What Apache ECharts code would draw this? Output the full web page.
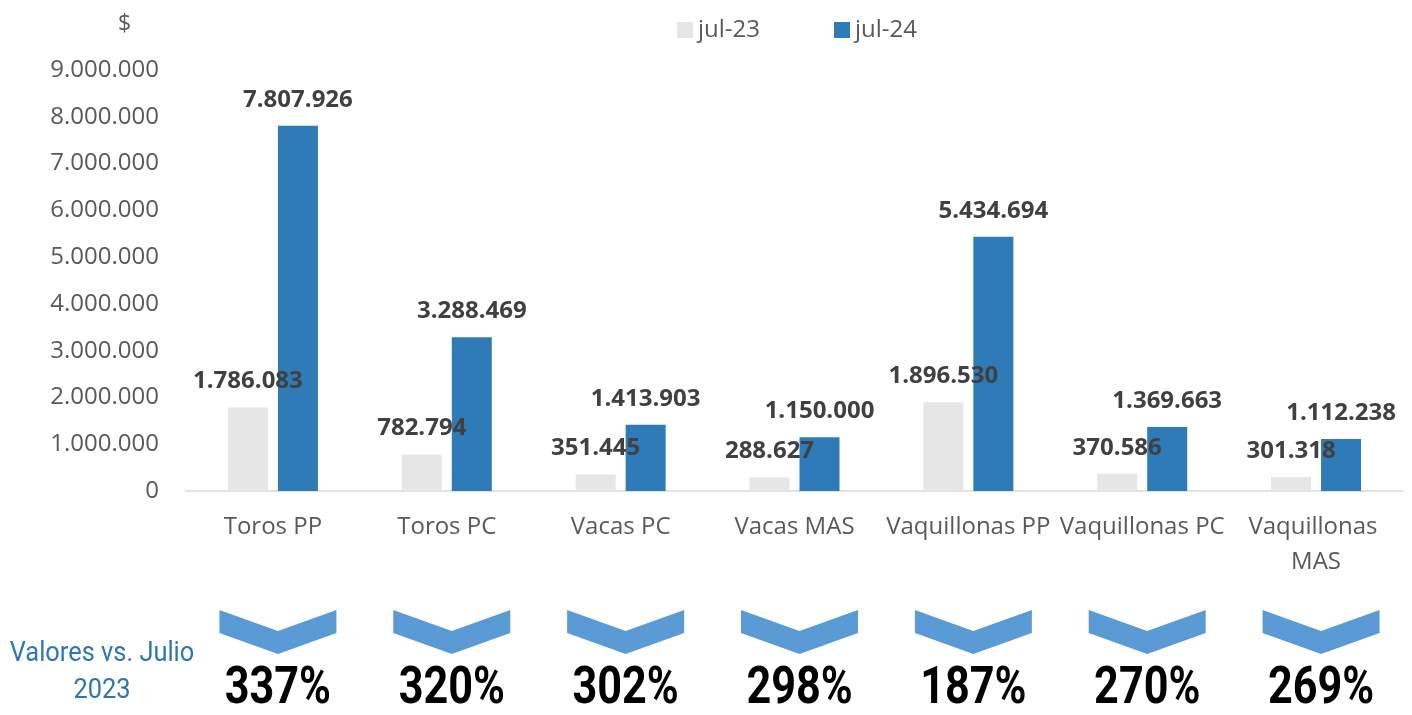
<!DOCTYPE html>
<html>
<head>
<meta charset="utf-8">
<script src="https://cdn.jsdelivr.net/npm/echarts@6/dist/echarts.min.js"></script>
<style>
  html, body { margin: 0; padding: 0; background: #fff; }
  #main { width: 1412px; height: 715px; }
</style>
</head>
<body>
<div id="main"></div>
<script>
// data
let categories = ["Toros PP", "Toros PC", "Vacas PC", "Vacas MAS", "Vaquillonas PP", "Vaquillonas PC", "Vaquillonas MAS"];
let jul23 = [1786083, 782794, 351445, 288627, 1896530, 370586, 301318];
let jul24 = [7807926, 3288469, 1413903, 1150000, 5434694, 1369663, 1112238];
let variacion = ["337%", "320%", "302%", "298%", "187%", "270%", "269%"];

function miles(v) {
  return String(v).replace(/\B(?=(\d{3})+(?!\d))/g, ".");
}

let myChart = echarts.init(document.getElementById("main"));
let font = "Open Sans";

// chevron + percentage under each category
function renderFlecha(params, api) {
  let top = api.coord([api.value(0), 20]);
  let mid = api.coord([api.value(0), 100]);
  let x = top[0] + 5, y = top[1];
  return {
    type: "group",
    silent: true,
    children: [
      {
        type: "polygon",
        shape: {
          points: [
            [x - 58.5, y], [x, y + 21], [x + 58.5, y],
            [x + 58.5, y + 23], [x, y + 44], [x - 58.5, y + 23]
          ]
        },
        style: { fill: "#5b9bd5" }
      },
      {
        type: "text",
        x: x,
        y: mid[1],
        scaleX: 0.83,
        style: {
          text: variacion[params.dataIndex],
          x: 0,
          y: 0,
          align: "center",
          verticalAlign: "middle",
          fill: "#000",
          font: "bold 52px Roboto, 'Liberation Sans', sans-serif"
        }
      }
    ]
  };
}

let option = {
  animation: false,
  textStyle: { fontFamily: font },
  title: {
    text: "$",
    left: 113,
    top: 8,
    textStyle: { fontFamily: font, fontSize: 23, fontWeight: "normal", color: "#595959" }
  },
  legend: {
    left: 672,
    top: 13,
    itemWidth: 16,
    itemHeight: 16,
    itemGap: 74,
    icon: "rect",
    textStyle: { fontFamily: font, fontSize: 24, color: "#595959" },
    data: ["jul-23", "jul-24"]
  },
  graphic: [
    {
      type: "text",
      x: 102,
      y: 636,
      scaleX: 0.94,
      style: {
        text: "Valores vs. Julio\n2023",
        x: 0,
        y: 0,
        align: "center",
        fill: "#2e75b6",
        font: "27px Roboto, sans-serif",
        lineHeight: 37
      }
    }
  ],
  grid: [
    { left: 186, right: 9, top: 70, bottom: 224 },
    { left: 186, right: 9, top: 590, height: 125 }
  ],
  xAxis: [
    {
      type: "category",
      gridIndex: 0,
      data: categories,
      axisLine: { lineStyle: { color: "#d9d9d9", width: 1.5 } },
      axisTick: { show: false },
      axisLabel: {
        interval: 0,
        margin: 19,
        fontFamily: font,
        fontSize: 24,
        lineHeight: 35,
        color: "#595959",
        width: 174,
        overflow: "break"
      }
    },
    {
      type: "category",
      gridIndex: 1,
      data: categories,
      show: false
    }
  ],
  yAxis: [
    {
      type: "value",
      gridIndex: 0,
      min: 0,
      max: 9000000,
      interval: 1000000,
      splitLine: { show: false },
      axisLine: { show: false },
      axisTick: { show: false },
      axisLabel: {
        margin: 27,
        fontFamily: font,
        fontSize: 24,
        color: "#595959",
        formatter: miles
      }
    },
    {
      type: "value",
      gridIndex: 1,
      min: 0,
      max: 125,
      inverse: true,
      show: false
    }
  ],
  series: [
    {
      name: "jul-23",
      type: "bar",
      barWidth: 40,
      barGap: "25%",
      itemStyle: { color: "#e7e6e6" },
      label: {
        show: true,
        position: "top",
        distance: 14,
        fontFamily: font,
        fontSize: 24,
        fontWeight: "bold",
        color: "#404040",
        formatter: p => miles(p.value)
      },
      data: jul23
    },
    {
      name: "jul-24",
      type: "bar",
      barWidth: 40,
      barGap: "25%",
      itemStyle: { color: "#2e7bb7" },
      label: {
        show: true,
        position: "top",
        distance: 14,
        fontFamily: font,
        fontSize: 24,
        fontWeight: "bold",
        color: "#404040",
        formatter: p => miles(p.value)
      },
      data: jul24
    },
    {
      name: "variacion",
      type: "custom",
      xAxisIndex: 1,
      yAxisIndex: 1,
      renderItem: renderFlecha,
      data: categories.map(c => [c])
    }
  ]
};

myChart.setOption(option);
</script>
</body>
</html>
